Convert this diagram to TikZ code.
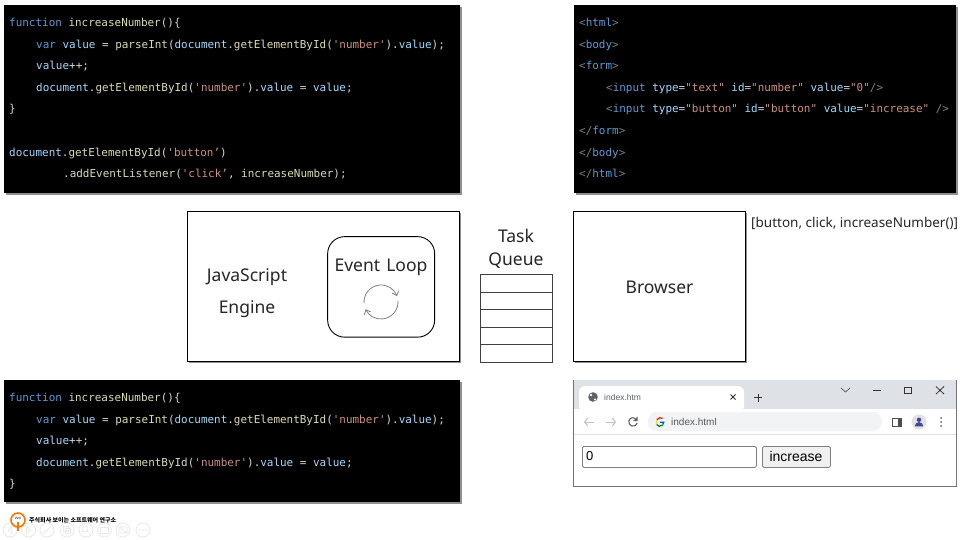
\documentclass[tikz,border=0pt]{standalone}
\usepackage{fontspec}
\usetikzlibrary{shadows,arrows.meta}
\setmainfont{Noto Sans}
\newfontfamily\codefont{DejaVu Sans Mono}
\newfontfamily\arialfont{Liberation Sans}
\newfontfamily\krfont{Noto Sans CJK KR}
\definecolor{kwc}{RGB}{86,156,214}
\definecolor{varc}{RGB}{156,220,254}
\definecolor{fnc}{RGB}{220,220,170}
\definecolor{strc}{RGB}{206,145,120}
\definecolor{txtc}{RGB}{212,212,212}
\definecolor{tagc}{RGB}{128,128,128}
\definecolor{stripc}{RGB}{222,225,230}
\definecolor{iconc}{RGB}{95,99,104}
\definecolor{arrowoff}{RGB}{190,193,197}
\definecolor{pillc}{RGB}{241,243,244}
\definecolor{ctrlc}{RGB}{232,232,232}
\newcommand\kw[1]{\textcolor{kwc}{#1}}
\newcommand\vr[1]{\textcolor{varc}{#1}}
\newcommand\fn[1]{\textcolor{fnc}{#1}}
\newcommand\st[1]{\textcolor{strc}{#1}}
\newcommand\tg[1]{\textcolor{tagc}{#1}}
\tikzset{
  x=1pt,y=-1pt,
  codebox/.style={fill=black,anchor=north west,inner sep=0pt,
    drop shadow={shadow xshift=2.2pt,shadow yshift=-2.2pt,fill=black!55,opacity=.8}},
  codeline/.style={anchor=base west,inner sep=0pt,text=txtc,font=\codefont\fontsize{10.95}{13}\selectfont},
  panel/.style={draw=black,fill=white,anchor=north west,inner sep=0pt,line width=.9pt,
    drop shadow={shadow xshift=1.5pt,shadow yshift=-1.5pt,fill=black!55,opacity=.8}},
  label/.style={inner sep=0pt,text=black!85,font=\fontsize{17.5}{20}\selectfont},
  cell/.style={draw=black!75,fill=white,anchor=north west,inner sep=0pt,line width=1pt,minimum width=72pt,minimum height=17.5pt},
  loop/.style={draw=black!50,line width=.8pt,-{Straight Barb[length=4pt,width=7pt]}},
  uirect/.style={anchor=north west,inner sep=0pt},
  tool/.style={draw=iconc,line width=1pt,line cap=round},
  ctrl/.style={circle,draw=ctrlc,fill=white,line width=.8pt,minimum size=14pt,inner sep=0pt},
  ctrlmark/.style={draw=ctrlc,line width=.7pt},
}
\begin{document}
\begin{tikzpicture}
\useasboundingbox (0,0) rectangle (960,540);
% top-left code
\node[codebox,minimum width=456pt,minimum height=188pt] (jsbox) at (4,5) {};
\node[codeline] (a1) at (9,26.8) {\kw{function} \fn{increaseNumber}()\{};
\node[codeline] (a2) at (36,48.8) {\kw{var} \vr{value} = \fn{parseInt}(\vr{document}.\fn{getElementById}(\st{'number'}).\vr{value});};
\node[codeline] (a3) at (36,69.8) {\vr{value}++;};
\node[codeline] (a4) at (36,91.8) {\vr{document}.\fn{getElementById}(\st{'number'}).\vr{value} = \vr{value};};
\node[codeline] (a5) at (9,112.8) {\}};
\node[codeline] (a6) at (9,156.8) {\vr{document}.\fn{getElementById}(\st{'button’})};
\node[codeline] (a7) at (63,177.8) {.\fn{addEventListener}(\st{'click’}, \fn{increaseNumber});};
% top-right code
\node[codebox,minimum width=382.5pt,minimum height=188pt] (htmlbox) at (573.5,5) {};
\node[codeline] (h1) at (579,26.8) {\tg{<}\kw{html}\tg{>}};
\node[codeline] (h2) at (579,48.8) {\tg{<}\kw{body}\tg{>}};
\node[codeline] (h3) at (579,69.8) {\tg{<}\kw{form}\tg{>}};
\node[codeline] (h4) at (606,91.8) {\tg{<}\kw{input} \vr{type}=\st{"text"} \vr{id}=\st{"number"} \vr{value}=\st{"0"}\tg{/>}};
\node[codeline] (h5) at (606,112.8) {\tg{<}\kw{input} \vr{type}=\st{"button"} \vr{id}=\st{"button"} \vr{value}=\st{"increase"} \tg{/>}};
\node[codeline] (h6) at (579,134.8) {\tg{</}\kw{form}\tg{>}};
\node[codeline] (h7) at (579,156.8) {\tg{</}\kw{body}\tg{>}};
\node[codeline] (h8) at (579,177.8) {\tg{</}\kw{html}\tg{>}};
% engine
\node[panel,minimum width=272.5pt,minimum height=150.5pt] (engine) at (186.7,210.7) {};
\node[label] (jsa) at (247,277.5) {JavaScript};
\node[label] (jsb) at (247,309.5) {Engine};
\node[draw=black,fill=white,rounded corners=17pt,line width=.9pt,anchor=north west,inner sep=0pt,minimum width=107pt,minimum height=100.5pt] (evloop) at (327.2,236.2) {};
\node[label] (evtext) at (381,267.5) {Event\hspace{1.5pt} Loop};
\coordinate (loopc) at (381,302);
\draw[loop] (loopc) ++(175:17) arc[start angle=175,end angle=340,radius=17];
\draw[loop] (loopc) ++(-5:17) arc[start angle=-5,end angle=155,radius=17];
% queue
\node[label] (tq1) at (516,235.5) {Task};
\node[label] (tq2) at (516,260.5) {Queue};
\node[cell] (q1) at (479.7,274.3) {};
\node[cell] (q2) at (479.7,291.8) {};
\node[cell] (q3) at (479.7,309.3) {};
\node[cell] (q4) at (479.7,326.8) {};
\node[cell] (q5) at (479.7,344.3) {};
% browser
\node[panel,minimum width=172.5pt,minimum height=150.5pt] (browser) at (572.7,210.7) {};
\node[label] (brtext) at (659.5,287.5) {Browser};
\node[anchor=west,inner sep=0pt,text=black!85,font=\fontsize{13.5}{15}\selectfont] (stack) at (751,223) {[button, click, increaseNumber()]};
% bottom-left code
\node[codebox,minimum width=456pt,minimum height=122pt] (jsbox2) at (4,380) {};
\node[codeline] (b1) at (9,401.8) {\kw{function} \fn{increaseNumber}()\{};
\node[codeline] (b2) at (36,423.8) {\kw{var} \vr{value} = \fn{parseInt}(\vr{document}.\fn{getElementById}(\st{'number'}).\vr{value});};
\node[codeline] (b3) at (36,444.8) {\vr{value}++;};
\node[codeline] (b4) at (36,466.8) {\vr{document}.\fn{getElementById}(\st{'number'}).\vr{value} = \vr{value};};
\node[codeline] (b5) at (9,487.8) {\}};
% browser window
\node[uirect,draw=black!55,fill=white,line width=.8pt,minimum width=383pt,minimum height=106.7pt] (win) at (573,379.7) {};
\fill[stripc] (573.5,380.2) rectangle (955.5,409);
\fill[white,rounded corners=6pt] (579,412) -- (579,386) -- (744,386) -- (744,412) -- cycle;
\fill[white] (573.5,409) rectangle (955.5,434);
\draw[black!12,line width=.6pt] (573.5,434) -- (955.5,434);
\fill[pillc,rounded corners=9pt] (648,412) rectangle (882,431);
% tab
\fill[iconc] (593,397) circle (4.8);
\fill[white] (591,395) circle (1.3) (595,399.5) circle (1.2);
\node[anchor=west,inner sep=0pt,text=iconc,font=\arialfont\fontsize{8.5}{10}\selectfont] (tabt) at (604,397.5) {index.htm};
\draw[black!80,line width=1pt] (730.5,394.5) -- (735.5,399.5) (735.5,394.5) -- (730.5,399.5);
\draw[black!80,line width=1pt] (754,397.5) -- (762,397.5) (758,393.5) -- (758,401.5);
% window buttons
\draw[black!65,line width=.7pt] (841,388) -- (845.5,392) -- (850,388);
\draw[black!80,line width=.7pt] (873,390.5) -- (881,390.5);
\draw[black!80,line width=.8pt] (904.5,387) rectangle (911.5,393.5);
\draw[black!80,line width=.8pt] (936,386.5) -- (944,394) (944,386.5) -- (936,394);
% toolbar
\draw[arrowoff,line width=1pt,-{Straight Barb[length=3pt,width=8pt]}] (594,422) -- (584,422);
\draw[arrowoff,line width=1pt,-{Straight Barb[length=3pt,width=8pt]}] (606,422) -- (616,422);
\draw[iconc,line width=1.1pt] (637.2,423) arc[start angle=15,end angle=305,radius=4.3];
\fill[iconc] (637.5,416.5) -- (637.5,421) -- (633,421) -- cycle;
\draw[red!80!orange,line width=1.3pt] (656.8,419.8) arc[start angle=205,end angle=310,radius=3.7];
\draw[yellow!80!orange,line width=1.3pt] (656.6,424) arc[start angle=150,end angle=205,radius=3.7];
\draw[green!55!black,line width=1.3pt] (662.7,425) arc[start angle=40,end angle=150,radius=3.7];
\draw[blue!70!cyan,line width=1.3pt] (660,422.2) -- (663.7,422.2) arc[start angle=0,end angle=40,radius=3.7];
\node[anchor=west,inner sep=0pt,text=black!65,font=\arialfont\fontsize{10}{12}\selectfont] (urlt) at (671,422) {index.html};
\draw[iconc!80!black,line width=1pt] (892.5,418) rectangle (901.5,426.5);
\fill[iconc!80!black] (897.5,418) rectangle (901.5,426.5);
\fill[stripc] (919,422) circle (7.5);
\fill[iconc!70!blue] (919,419.8) circle (2.2);
\fill[iconc!70!blue] (914.8,426.3) arc[start angle=180,end angle=360,radius=4.2] -- cycle;
\fill[iconc] (941,418) circle (1) (941,422) circle (1) (941,426) circle (1);
% form
\node[uirect,draw=black!50,fill=white,rounded corners=1.5pt,line width=.8pt,minimum width=174pt,minimum height=21pt] (field) at (582,446) {};
\node[anchor=west,inner sep=0pt,text=black,font=\arialfont\fontsize{13}{15}\selectfont] (fieldv) at (586,456.5) {0};
\node[uirect,draw=black!50,fill=black!6,rounded corners=1.5pt,line width=.8pt,minimum width=68pt,minimum height=21pt] (incbtn) at (762,446) {};
\node[inner sep=0pt,text=black,font=\arialfont\fontsize{14}{16}\selectfont] (inctext) at (796,456.5) {increase};
% slide controls
\foreach \n/\cx in {c1/10,c2/28.5,c3/47,c4/67,c5/86,c6/104.5,c7/123,c8/143}
  \node[ctrl] (\n) at (\cx,530) {};
\draw[ctrlmark] (12,526.5) -- (8,530) -- (12,533.5) -- cycle;
\draw[ctrlmark] (26.5,526.5) -- (30.5,530) -- (26.5,533.5) -- cycle;
\draw[ctrlmark] (43.5,533.5) -- (50.5,526.5);
\draw[ctrlmark] (63.5,526.5) rectangle (68.5,531.5) (65.5,528.5) rectangle (70.5,533.5);
\draw[ctrlmark] (85,529) circle (3) (87.2,531.2) -- (89.5,533.5);
\draw[ctrlmark] (100.5,527) rectangle (108.5,533);
\draw[ctrlmark] (119,527) rectangle (127,533) (119,527) -- (127,533);
\fill[ctrlc] (140,530) circle (.8) (143,530) circle (.8) (146,530) circle (.8);
% logo
\draw[orange!90!red,line width=1.6pt] (18,520) circle (7);
\draw[orange!90!red,line width=1.6pt] (18,522) -- (18,531);
\node[inner sep=0pt,font=\fontsize{4}{5}\selectfont\bfseries] (logot) at (18,518) {\textcolor{black}{vvv}};
\node[anchor=west,inner sep=0pt,text=black,font=\krfont\bfseries\fontsize{6}{7}\selectfont] (logotxt) at (29,520) {주식회사 보이는 소프트웨어 연구소};
\end{tikzpicture}
\end{document}
